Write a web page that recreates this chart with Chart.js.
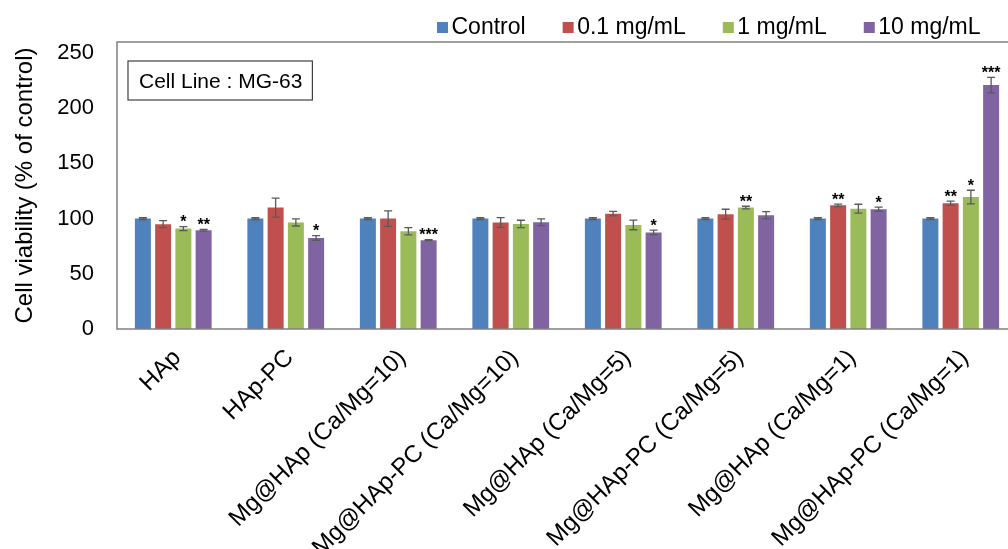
<!DOCTYPE html>
<html>
<head>
<meta charset="utf-8">
<script src="https://cdn.jsdelivr.net/npm/chart.js@4.4.1/dist/chart.umd.min.js"></script>
<style>
  html, body { margin: 0; padding: 0; background: #fff; overflow: hidden; width: 1008px; height: 549px; }
  canvas { display: block; }
</style>
</head>
<body>
<canvas id="chart" width="1020" height="549"></canvas>
<script>
// Cell viability of MG-63 cells after exposure to each material at three concentrations
const categories = [
  'HAp', 'HAp-PC',
  'Mg@HAp (Ca/Mg=10)', 'Mg@HAp-PC (Ca/Mg=10)',
  'Mg@HAp (Ca/Mg=5)', 'Mg@HAp-PC (Ca/Mg=5)',
  'Mg@HAp (Ca/Mg=1)', 'Mg@HAp-PC (Ca/Mg=1)'
];
const seriesNames = ['Control', '0.1 mg/mL', '1 mg/mL', '10 mg/mL'];

const controlValues = [100, 100, 100, 100, 100, 100, 100, 100];
const controlErrors = [0.8, 0.8, 0.8, 0.8, 0.8, 0.8, 0.8, 0.8];
const lowValues     = [95, 110, 100, 96.5, 104.5, 104, 112, 114];
const lowErrors     = [3.1, 8.6, 7, 4.4, 2, 4.5, 1.2, 1.8];
const midValues     = [91, 96.5, 88.5, 95.2, 94.3, 110, 109, 119.5];
const midErrors     = [1.8, 3.2, 3.3, 3.3, 4.4, 1.2, 4, 6.2];
const highValues    = [89.5, 82.5, 80.5, 96.7, 87.5, 103, 108.5, 221];
const highErrors    = [0.8, 2.1, 0.5, 3, 2, 3.3, 2, 7];

// significance marks drawn above each bar
const controlMarks = ['', '', '', '', '', '', '', ''];
const lowMarks     = ['', '', '', '', '', '', '**', '**'];
const midMarks     = ['*', '', '', '', '', '**', '', '*'];
const highMarks    = ['**', '*', '***', '', '*', '', '*', '***'];

const yTicks = [0, 50, 100, 150, 200, 250];
const yTitle = 'Cell viability (% of control)';
const panelLabel = 'Cell Line : MG-63';

const colors = ['#4F81BD', '#C0504D', '#9BBB59', '#8064A2'];
const FONT = "'Liberation Sans', Arial, sans-serif";

const valueSets = [controlValues, lowValues, midValues, highValues];
const errorSets = [controlErrors, lowErrors, midErrors, highErrors];
const markSets  = [controlMarks, lowMarks, midMarks, highMarks];

const datasets = seriesNames.map((name, i) => ({
  label: name,
  data: valueSets[i],
  errors: errorSets[i],
  marks: markSets[i],
  backgroundColor: colors[i],
  borderWidth: 0,
  categoryPercentage: 0.72,
  barPercentage: 0.79
}));

// plot frame, error bars with caps and significance marks
const decorations = {
  id: 'decorations',
  afterDatasetsDraw(chart) {
    const { ctx, chartArea: a, scales: { y } } = chart;
    ctx.save();
    ctx.strokeStyle = '#808080';
    ctx.lineWidth = 1.5;
    ctx.strokeRect(a.left, a.top, a.right - a.left, a.bottom - a.top);

    chart.data.datasets.forEach((ds, di) => {
      const meta = chart.getDatasetMeta(di);
      meta.data.forEach((bar, i) => {
        const v = ds.data[i], e = ds.errors[i];
        const yt = y.getPixelForValue(v + e);
        const yb = y.getPixelForValue(v - e);
        ctx.strokeStyle = '#5a5a5a';
        ctx.lineWidth = 1.3;
        ctx.beginPath();
        ctx.moveTo(bar.x, yt); ctx.lineTo(bar.x, yb);
        ctx.moveTo(bar.x - 4, yt); ctx.lineTo(bar.x + 4, yt);
        ctx.moveTo(bar.x - 4, yb); ctx.lineTo(bar.x + 4, yb);
        ctx.stroke();
        const m = ds.marks[i];
        if (m) {
          ctx.fillStyle = '#000';
          ctx.font = 'bold 16px ' + FONT;
          ctx.textAlign = 'center';
          ctx.textBaseline = 'alphabetic';
          ctx.fillText(m, bar.x, yt + 0.5);
        }
      });
    });
    ctx.restore();
  },
  afterDraw(chart) {
    const { ctx, chartArea: a } = chart;
    ctx.save();
    // panel label box
    ctx.font = '21px ' + FONT;
    const tw = ctx.measureText(panelLabel).width;
    const bx = a.left + 11, by = a.top + 19;
    ctx.fillStyle = '#fff';
    ctx.fillRect(bx, by, tw + 21, 39);
    ctx.strokeStyle = '#404040';
    ctx.lineWidth = 1.2;
    ctx.strokeRect(bx, by, tw + 21, 39);
    ctx.fillStyle = '#000';
    ctx.textAlign = 'left';
    ctx.textBaseline = 'alphabetic';
    ctx.fillText(panelLabel, bx + 11, by + 27);

    // legend row
    ctx.font = '23px ' + FONT;
    let x = 437;
    chart.data.datasets.forEach((ds) => {
      ctx.fillStyle = ds.backgroundColor;
      ctx.fillRect(x, 22, 11, 11);
      ctx.fillStyle = '#000';
      ctx.fillText(ds.label, x + 14.5, 34);
      x += 14.5 + ctx.measureText(ds.label).width + 37;
    });
    ctx.restore();
  }
};

new Chart(document.getElementById('chart'), {
  type: 'bar',
  data: { labels: categories, datasets },
  plugins: [decorations],
  options: {
    responsive: false,
    animation: false,
    devicePixelRatio: 1,
    layout: { padding: { top: 42, right: 3, left: 0, bottom: 0 } },
    plugins: {
      legend: { display: false },
      tooltip: { enabled: false }
    },
    scales: {
      x: {
        grid: { display: false, drawTicks: false },
        border: { display: false },
        ticks: {
          autoSkip: false,
          maxRotation: 45,
          minRotation: 45,
          padding: 15,
          labelOffset: 4,
          color: '#000',
          font: { family: FONT, size: 24 }
        },
        afterFit(scale) { scale.height = 220; }
      },
      y: {
        min: 0,
        max: 260,
        grid: { display: false, drawTicks: false },
        border: { display: false },
        afterBuildTicks(scale) { scale.ticks = yTicks.map(v => ({ value: v })); },
        ticks: {
          padding: 23,
          color: '#000',
          font: { family: FONT, size: 22 }
        },
        title: {
          display: true,
          text: yTitle,
          color: '#000',
          font: { family: FONT, size: 24 },
          padding: { top: 11, bottom: 0 }
        },
        afterFit(scale) { scale.width = 117; }
      }
    }
  }
});
</script>
</body>
</html>
